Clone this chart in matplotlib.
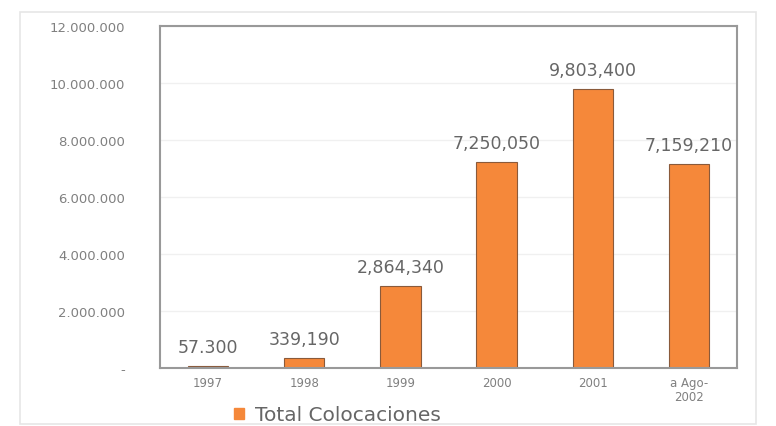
import matplotlib.pyplot as plt
import numpy as np
from matplotlib.patches import Rectangle

# datos
categorias = ['1997', '1998', '1999', '2000', '2001', 'a Ago-\n2002']
valores = [57300, 339190, 2864340, 7250050, 9803400, 7159210]
etiquetas = ['57.300', '339,190', '2,864,340', '7,250,050', '9,803,400', '7,159,210']
yticks = [0, 2000000, 4000000, 6000000, 8000000, 10000000, 12000000]
ytick_labels = ['-', '2.000.000', '4.000.000', '6.000.000', '8.000.000', '10.000.000', '12.000.000']

naranja = '#f5883a'
gris = '#808080'

fig = plt.figure(figsize=(7.76, 4.27), dpi=100)
fig.patch.set_facecolor('white')

# marco exterior
fig.patches.append(Rectangle((0.026, 0.005), 0.948, 0.965, transform=fig.transFigure,
                             fill=False, edgecolor='#e6e6e6', linewidth=1.2))

ax = fig.add_axes([0.206, 0.136, 0.744, 0.8])
x = np.arange(len(categorias))
ax.grid(axis='y', color='#f0f0f0', linewidth=1)
ax.set_axisbelow(True)
ax.bar(x, valores, width=0.42, color=naranja, edgecolor='#8a5a3a', linewidth=0.8)

for xi, v, t in zip(x, valores, etiquetas):
    ax.text(xi, v + 350000, t, ha='center', va='bottom', fontsize=12.5, color='#666666')

ax.set_ylim(0, 12000000)
ax.set_xlim(-0.5, len(categorias) - 0.5)
ax.set_yticks(yticks)
ax.set_yticklabels(ytick_labels, fontsize=9.5, color=gris)
ax.set_xticks(x)
ax.set_xticklabels(categorias, fontsize=8.5, color=gris, linespacing=1.1)
ax.tick_params(axis='both', length=0)
ax.tick_params(axis='x', pad=6)
ax.tick_params(axis='y', pad=25)

for s in ax.spines.values():
    s.set_color('#999999')
    s.set_linewidth(1.5)

# leyenda
fig.patches.append(Rectangle((0.302, 0.016), 0.013, 0.026, transform=fig.transFigure,
                             color=naranja))
fig.text(0.328, 0.028, 'Total Colocaciones', fontsize=14.5, color='#666666', va='center')

fig.savefig('out.png', dpi=100)
